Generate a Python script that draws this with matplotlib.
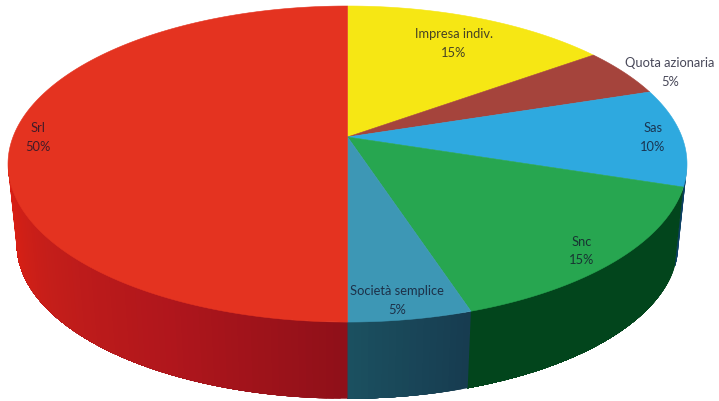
import numpy as np
import matplotlib
matplotlib.use('Agg')
import matplotlib.pyplot as plt
from matplotlib.colors import to_rgb

# Data
labels = ['Impresa indiv.', 'Quota azionaria', 'Sas', 'Snc', 'Società semplice', 'Srl']
shares = [15, 5, 10, 15, 5, 50]

# Styles
top_colors = ['#F6E714', '#A5443C', '#2EA9DF', '#27A650', '#3D97B5', '#E43320']
side_stops = [
    ['#F6E714', '#F6E714'],
    ['#A5443C', '#A5443C'],
    ['#0F4A72', '#0C3E60'],
    ['#02451C', '#02451C'],
    ['#173C50', '#1B5060'],
    ['#8F1019', '#B0161C', '#C41E1A', '#DE2013'],
]
label_xy = [(454, 43.5), (670, 72.5), (653, 137.5), (582, 251), (397, 300.5), (38, 137.5)]

# Perspective of the disc: x0, y0, a, b, e
TOP = (347.5, 138, 334.5, 153.4, 0.171)
BOTTOM = (347.5, 219, 326, 150, 0.17)


def project(t, view):
    x0, y0, a, b, e = view
    d = 1 + e * np.sin(t)
    return x0 + a * np.cos(t) / d, y0 - b * np.sin(t) / d


def blend(stops, f):
    pos = np.linspace(0, 1, len(stops))
    rgb = np.array([to_rgb(c) for c in stops])
    return tuple(np.interp(f, pos, rgb[:, i]) for i in range(3))


fig = plt.figure(figsize=(7.19, 4.02), dpi=100)
ax = fig.add_axes([0, 0, 1, 1])
ax.set_xlim(0, 719)
ax.set_ylim(402, 0)
ax.axis('off')

# slice limits, clockwise from the top
ends = 90 - np.cumsum(shares) * 3.6
starts = np.r_[90, ends[:-1]]

# walls, only the front part can be seen
for start, end, stops in zip(starts, ends, side_stops):
    lo = max(end, -170)
    hi = min(start, -10)
    if lo >= hi:
        continue
    steps = int(hi - lo)
    edges = np.radians(np.linspace(hi, lo, steps + 1))
    # each strip runs to the slice end and the next one paints over it, so no seams
    for i in range(steps):
        t = np.linspace(edges[i], edges[-1], steps - i + 1)
        ux, uy = project(t, TOP)
        bx, by = project(t, BOTTOM)
        c = blend(stops, i / max(steps - 1, 1))
        ax.fill(np.r_[ux, bx[::-1]], np.r_[uy, by[::-1]], color=c, lw=0)

# top of the disc
for start, end, c in zip(starts, ends, top_colors):
    t = np.radians(np.linspace(start, end, 200))
    x, y = project(t, TOP)
    ax.fill(np.r_[TOP[0], x], np.r_[TOP[1], y], color=c, lw=0.4)

for name, share, (x, y) in zip(labels, shares, label_xy):
    ax.text(x, y, f'{name}\n{share}%', ha='center', va='center', fontsize=9.3,
            family='Lato', color='#14142a', alpha=0.78, linespacing=1.65)

plt.savefig('out.png', dpi=100)
